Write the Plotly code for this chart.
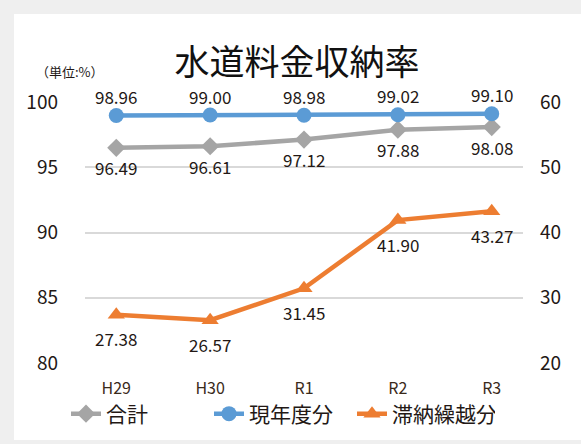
import plotly.graph_objects as go

# 水道料金収納率 (単位:%)
years = ["H29", "H30", "R1", "R2", "R3"]
total = [96.49, 96.61, 97.12, 97.88, 98.08]        # 合計
current = [98.96, 99.00, 98.98, 99.02, 99.10]      # 現年度分
arrears = [27.38, 26.57, 31.45, 41.90, 43.27]      # 滞納繰越分 (right axis)

left_ticks = [80, 85, 90, 95, 100]
right_ticks = [20, 30, 40, 50, 60]

GRAY = "#A5A5A5"
BLUE = "#5B9BD5"
ORANGE = "#ED7D31"
FONT = "Noto Sans CJK JP"
TXT = "#231815"

W, H = 581, 444
L, R, T, B = 85, 58, 102, 81
PW, PH = W - L - R, H - T - B


def px_x(px):
    return (px - L) / PW


def px_y(py):
    return (H - B - py) / PH


fig = go.Figure()

fig.add_trace(go.Scatter(
    x=years, y=total, name="合計", mode="lines+markers",
    line=dict(color=GRAY, width=4.5),
    marker=dict(symbol="diamond", size=14, color=GRAY),
))
fig.add_trace(go.Scatter(
    x=years, y=current, name="現年度分", mode="lines+markers",
    line=dict(color=BLUE, width=4.5),
    marker=dict(symbol="circle", size=15, color=BLUE),
))
fig.add_trace(go.Scatter(
    x=years, y=arrears, name="滞納繰越分", mode="lines+markers", yaxis="y2",
    line=dict(color=ORANGE, width=4.5),
    marker=dict(symbol="triangle-up", size=15, color=ORANGE),
))

# value labels
ann = []
for x, v in zip(years, current):
    ann.append(dict(x=x, y=v, xref="x", yref="y", text=f"{v:.2f}", showarrow=False,
                    yshift=19, font=dict(size=17, color=TXT, family=FONT)))
for x, v in zip(years, total):
    ann.append(dict(x=x, y=v, xref="x", yref="y", text=f"{v:.2f}", showarrow=False,
                    yshift=-20, font=dict(size=17, color=TXT, family=FONT)))
for x, v in zip(years, arrears):
    ann.append(dict(x=x, y=v, xref="x", yref="y2", text=f"{v:.2f}", showarrow=False,
                    yshift=-24, font=dict(size=17, color=TXT, family=FONT)))

ann.append(dict(x=px_x(70), y=px_y(72), xref="paper", yref="paper", text="（単位:%）",
                showarrow=False, xanchor="center", yanchor="middle",
                font=dict(size=13, color=TXT, family=FONT)))

fig.update_layout(
    width=W, height=H,
    margin=dict(l=L, r=R, t=T, b=B, autoexpand=False),
    paper_bgcolor="#EFEFEF",
    plot_bgcolor="white",
    font=dict(family=FONT, color=TXT),
    title=dict(text="水道料金収納率", font=dict(size=35, color="#111111", family=FONT),
               xref="container", yref="container", x=297 / W, y=1 - 63 / H,
               xanchor="center", yanchor="middle"),
    showlegend=True,
    legend=dict(orientation="h", x=66 / W, y=1 - 414 / H, xref="container", yref="container",
                xanchor="left", yanchor="middle", font=dict(size=21, color=TXT, family=FONT),
                entrywidth=98, entrywidthmode="pixels",
                tracegroupgap=0, bgcolor="rgba(0,0,0,0)"),
    xaxis=dict(type="category", showgrid=False, showline=False, zeroline=False,
               ticks="", tickfont=dict(size=16, color="#3A2A1A", family=FONT),
               ticklabelstandoff=14, automargin=False),
    yaxis=dict(range=[80, 100], tickvals=left_ticks, showgrid=True, gridcolor="#D9D9D9",
               gridwidth=1.5, zeroline=False, showline=False, ticks="",
               tickfont=dict(size=19, color=TXT, family=FONT), ticklabelstandoff=26,
               automargin=False),
    yaxis2=dict(range=[20, 60], tickvals=right_ticks, overlaying="y", side="right",
                showgrid=False, zeroline=False, showline=False, ticks="",
                tickfont=dict(size=19, color=TXT, family=FONT), ticklabelstandoff=16,
                automargin=False),
    annotations=ann,
    shapes=[dict(type="rect", xref="paper", yref="paper",
                 x0=px_x(14), x1=px_x(W), y0=px_y(440), y1=px_y(14),
                 fillcolor="white", line=dict(width=0), layer="below")],
)

fig.write_html("out.html")
